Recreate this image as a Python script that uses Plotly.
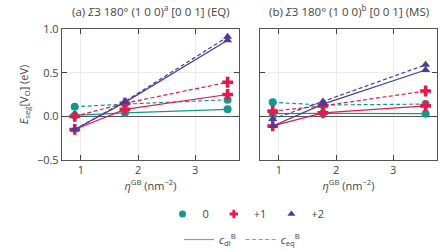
import plotly.graph_objects as go

eta = [0.89, 1.77, 3.57]

# Panel (a) EQ
a_q0_dl = [0.01, 0.04, 0.08]
a_q0_eq = [0.11, 0.14, 0.19]
a_q1_dl = [-0.15, 0.08, 0.25]
a_q1_eq = [0.00, 0.15, 0.39]
a_q2_dl = [-0.15, 0.16, 0.87]
a_q2_eq = [-0.15, 0.17, 0.91]

# Panel (b) MS
b_q0_dl = [0.03, 0.035, 0.03]
b_q0_eq = [0.16, 0.13, 0.14]
b_q1_dl = [-0.11, 0.04, 0.12]
b_q1_eq = [0.06, 0.12, 0.29]
b_q2_dl = [-0.11, 0.14, 0.53]
b_q2_eq = [-0.03, 0.17, 0.59]

charges = ["0", "+1", "+2"]
colors = ["#13998C", "#E6194B", "#4A3C98"]
symbols = ["circle", "cross", "triangle-up"]
msizes = [8, 9, 8]
DASH = "4px,2.5px"

FONT = "Open Sans"
fig = go.Figure()

panels = [
    ("x", "y", [a_q0_dl, a_q1_dl, a_q2_dl], [a_q0_eq, a_q1_eq, a_q2_eq]),
    ("x2", "y2", [b_q0_dl, b_q1_dl, b_q2_dl], [b_q0_eq, b_q1_eq, b_q2_eq]),
]
for xa, ya, dls, eqs in panels:
    for i in range(3):
        for vals, dash in ((eqs[i], DASH), (dls[i], "solid")):
            fig.add_trace(go.Scatter(
                x=eta, y=vals, xaxis=xa, yaxis=ya, mode="lines+markers",
                line=dict(color=colors[i], width=1.2, dash=dash),
                marker=dict(symbol=symbols[i], size=msizes[i], color=colors[i]),
                showlegend=False, hoverinfo="skip"))

# legend entries
for i in range(3):
    fig.add_trace(go.Scatter(x=[None], y=[None], mode="markers", name=charges[i],
                             marker=dict(symbol=symbols[i], size=7, color=colors[i]),
                             legend="legend"))
fig.add_trace(go.Scatter(x=[None], y=[None], mode="lines",
                         name="<i>c</i><sub>dl</sub><sup>B</sup>",
                         line=dict(color="#8a9cb0", width=1.2), legend="legend2"))
fig.add_trace(go.Scatter(x=[None], y=[None], mode="lines",
                         name="<i>c</i><sub>eq</sub><sup>B</sup>",
                         line=dict(color="#8a9cb0", width=1.2, dash=DASH), legend="legend2"))

yd = [0.3625, 0.8845]
axcommon = dict(showline=True, linecolor="#555", linewidth=1.3, mirror="ticks",
                ticks="inside", ticklen=5, tickcolor="#444", tickwidth=1.2,
                showgrid=True, gridcolor="#ececec", gridwidth=1, automargin=False,
                tickfont=dict(size=11, color="#444", family=FONT), zeroline=False)
xcommon = dict(axcommon, range=[0.667, 3.77], tickvals=[1, 2, 3])
ycommon = dict(axcommon, range=[-0.5, 1.0], tickvals=[-0.5, 0.0, 0.5, 1.0],
               zeroline=True, zerolinecolor="#555", zerolinewidth=1.3)

xtitle = dict(text="<i>η</i><sup>GB</sup> (nm<sup>−2</sup>)", font=dict(size=11, color="#444", family=FONT), standoff=2)
fig.update_layout(
    width=448, height=251, margin=dict(l=0, r=0, t=0, b=0, autoexpand=False),
    paper_bgcolor="white", plot_bgcolor="white",
    font=dict(family=FONT, color="#444"),
    xaxis=dict(xcommon, domain=[62/448, 239/448], anchor="y", title=xtitle),
    yaxis=dict(ycommon, domain=yd, anchor="x", tickformat=".1f",
               title=dict(text="<i>E</i><sub>seg</sub>[V<sub>O</sub>] (eV)", font=dict(size=11, color="#444", family=FONT), standoff=6)),
    xaxis2=dict(xcommon, domain=[260/448, 437/448], anchor="y2", title=xtitle),
    yaxis2=dict(ycommon, domain=yd, anchor="x2", showticklabels=False),
    legend=dict(orientation="h", x=246/448, xanchor="center", y=1-214/251, yanchor="middle",
                font=dict(size=11, color="#444", family=FONT), bgcolor="rgba(0,0,0,0)",
                itemwidth=30, tracegroupgap=0),
    legend2=dict(orientation="h", x=242/448, xanchor="center", y=-0.012, yanchor="bottom",
                 font=dict(size=11, color="#444", family=FONT), bgcolor="rgba(0,0,0,0)",
                 itemwidth=30),
    annotations=[
        dict(text="(a) <i>Σ</i>3 180° (1 0 0)<sup>a</sup> [0 0 1] (EQ)", x=(62+239)/2/448, y=1-11/251,
             xref="paper", yref="paper", showarrow=False, xanchor="center", yanchor="middle",
             font=dict(size=11.5, color="#444", family=FONT)),
        dict(text="(b) <i>Σ</i>3 180° (1 0 0)<sup>b</sup> [0 0 1] (MS)", x=(260+437)/2/448, y=1-11/251,
             xref="paper", yref="paper", showarrow=False, xanchor="center", yanchor="middle",
             font=dict(size=11.5, color="#444", family=FONT)),
    ],
)

fig.write_html("out.html", config={"displayModeBar": False},
               post_script="document.body.style.margin='0';document.body.style.overflow='hidden';")
